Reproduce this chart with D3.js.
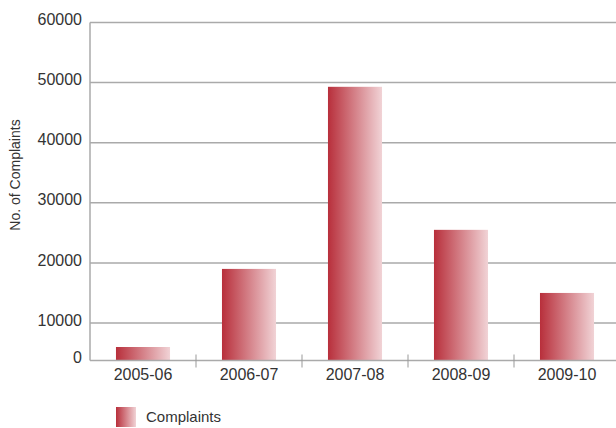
<!DOCTYPE html>
<html>
<head>
<meta charset="utf-8">
<script src="https://cdn.jsdelivr.net/npm/d3@7"></script>
<style>
  body { margin: 0; background: #fff; }
  svg { display: block; font-family: "Liberation Sans", Arial, sans-serif; }
</style>
</head>
<body>
<div id="chart"></div>
<script>
// data
const years = ["2005-06", "2006-07", "2007-08", "2008-09", "2009-10"];
const complaints = [3600, 19000, 49300, 25500, 15000];
const yTicks = [0, 10000, 20000, 30000, 40000, 50000, 60000];
const seriesName = "Complaints";
const yTitle = "No. of Complaints";

const W = 616, H = 428;
const plotLeft = 90, plotRight = 620, plotTop = 22.5, plotBottom = 360.5;

const svg = d3.select("#chart").append("svg")
    .attr("width", W)
    .attr("height", H);

const defs = svg.append("defs");
const grad = defs.append("linearGradient")
    .attr("id", "barGrad")
    .attr("x1", "0%").attr("x2", "100%")
    .attr("y1", "0%").attr("y2", "0%");
grad.append("stop").attr("offset", "0%").attr("stop-color", "#b82f3b");
grad.append("stop").attr("offset", "100%").attr("stop-color", "#f1d3d6");

const x = d3.scaleBand()
    .domain(years)
    .range([plotLeft, plotRight])
    .paddingInner(0.49)
    .paddingOuter(0.245);

// the original axis squeezes 0-10000 into a shorter step
const y = d3.scaleLinear()
    .domain([0, 10000, 60000])
    .range([plotBottom, 323, plotTop]);

// gridlines
svg.append("g")
    .selectAll("line")
    .data(yTicks.filter(d => d > 0))
    .enter()
    .append("line")
    .attr("x1", plotLeft)
    .attr("x2", W)
    .attr("y1", d => y(d))
    .attr("y2", d => y(d))
    .attr("stroke", "#aaaaaa")
    .attr("stroke-width", 1.5);

// y labels
svg.append("g")
    .selectAll("text")
    .data(yTicks)
    .enter()
    .append("text")
    .attr("x", 82)
    .attr("y", d => y(d) - 3)
    .attr("dy", "0.35em")
    .attr("text-anchor", "end")
    .attr("font-size", "16px")
    .attr("fill", "#333")
    .text(d => d);

// bars
svg.append("g")
    .selectAll("rect")
    .data(years)
    .enter()
    .append("rect")
    .attr("x", d => x(d))
    .attr("y", (d, i) => y(complaints[i]))
    .attr("width", x.bandwidth())
    .attr("height", (d, i) => y(0) - y(complaints[i]))
    .attr("fill", "url(#barGrad)");

// axes lines
svg.append("line")
    .attr("x1", plotLeft).attr("x2", plotLeft)
    .attr("y1", plotTop).attr("y2", plotBottom)
    .attr("stroke", "#aaaaaa")
    .attr("stroke-width", 1.5);
svg.append("line")
    .attr("x1", plotLeft).attr("x2", W)
    .attr("y1", plotBottom).attr("y2", plotBottom)
    .attr("stroke", "#aaaaaa")
    .attr("stroke-width", 1.5);

// tick marks between categories
const gap = x.step() - x.bandwidth();
svg.append("g")
    .selectAll("line")
    .data(years.slice(1))
    .enter()
    .append("line")
    .attr("x1", d => x(d) - gap / 2)
    .attr("x2", d => x(d) - gap / 2)
    .attr("y1", plotBottom - 6)
    .attr("y2", plotBottom + 7)
    .attr("stroke", "#999")
    .attr("stroke-width", 1);

// category labels
svg.append("g")
    .selectAll("text")
    .data(years)
    .enter()
    .append("text")
    .attr("x", d => x(d) + x.bandwidth() / 2)
    .attr("y", 380)
    .attr("text-anchor", "middle")
    .attr("font-size", "16px")
    .attr("fill", "#333")
    .text(d => d);

// y title
svg.append("text")
    .attr("transform", "translate(20,175) rotate(-90)")
    .attr("text-anchor", "middle")
    .attr("font-size", "14px")
    .attr("fill", "#333")
    .text(yTitle);

// legend
svg.append("rect")
    .attr("x", 116).attr("y", 407)
    .attr("width", 20).attr("height", 20)
    .attr("fill", "url(#barGrad)");
svg.append("text")
    .attr("x", 146).attr("y", 422)
    .attr("font-size", "15px")
    .attr("fill", "#333")
    .text(seriesName);
</script>
</body>
</html>
